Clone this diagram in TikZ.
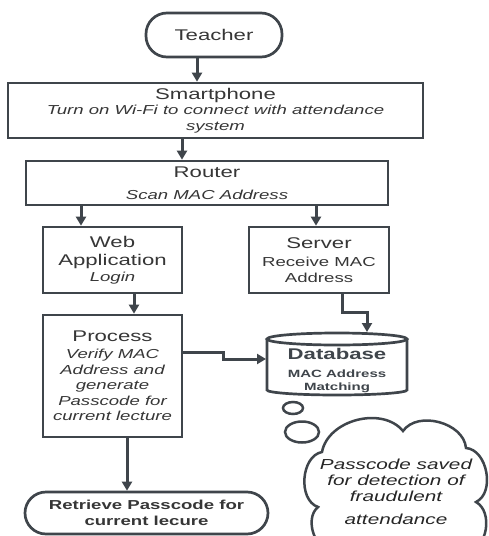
\documentclass[tikz,border=0pt]{standalone}
\usepackage{fontspec}
\setmainfont{Liberation Sans}[FakeStretch=1.43]
\usetikzlibrary{arrows.meta,calc}
\definecolor{ln}{HTML}{3F454B}
\definecolor{txt}{HTML}{363636}
\newcommand\hdfont{\fontsize{15.5}{18}\selectfont}
\newcommand\smfont{\fontsize{13}{15.5}\selectfont}
\begin{document}
\begin{tikzpicture}[x={(1pt,0)},y={(0,-1pt)},
  box/.style={draw=ln,line width=2.7pt,fill=white,inner sep=0pt,align=center,text=txt,font=\smfont},
  pill/.style={box,rounded corners=21pt},
  link/.style={draw=ln,line width=3pt,-{Triangle[width=10pt,length=9pt]}},
  outline/.style={draw=ln,line width=2.5pt,fill=white}]
\clip (0,0) rectangle (488,536);
\fill[white] (0,0) rectangle (488,536);

% start and end terminals
\node[pill,minimum width=136pt,minimum height=44pt,font=\hdfont] (teacher) at (214,35) {Teacher};
\node[pill,minimum width=243pt,minimum height=42pt,font=\fontsize{13}{16}\selectfont\bfseries] (retrieve) at (146.5,513)
  {Retrieve Passcode for\\current lecure};

% process boxes
\node[box,minimum width=415pt,minimum height=55pt] (smart) at (215.5,110.5)
  {\hdfont Smartphone\\\itshape Turn on Wi-Fi to connect with attendance\\\itshape system};
\node[box,minimum width=362pt,minimum height=44pt] (router) at (207,183)
  {\hdfont Router\\[6pt]\itshape Scan MAC Address};
\node[box,minimum width=139pt,minimum height=66pt] (web) at (112.5,260)
  {\hdfont Web\\[2.5pt]\hdfont Application\\\itshape Login};
\node[box,minimum width=140pt,minimum height=66pt] (server) at (319,260)
  {\hdfont Server\\[2.5pt]Receive MAC\\Address};
\node[box,minimum width=139pt,minimum height=122pt] (proc) at (112.5,376)
  {\hdfont Process\\[1.5pt]\itshape Verify MAC\\\itshape Address and\\\itshape generate\\\itshape Passcode for\\\itshape current lecture};

% database cylinder
\node[minimum width=140pt,minimum height=62pt,inner sep=0pt] (db) at (337,364) {};
\filldraw[outline,line width=2.7pt]
  (267,339) -- (267,390) arc[start angle=180,end angle=360,x radius=70pt,y radius=5pt]
  -- (407,339);
\filldraw[outline,line width=2.7pt] (337,339) ellipse[x radius=70pt,y radius=6pt];
\node[align=center,text=ln,inner sep=0pt,font=\fontsize{10.5}{12.5}\selectfont\bfseries] (dbtxt) at (337,370)
  {\fontsize{15.5}{18}\selectfont Database\\[6pt]MAC Address\\Matching};

% thought bubbles and note cloud
\draw[outline] (293,408) ellipse[x radius=10pt,y radius=6pt];
\draw[outline] (302,432) ellipse[x radius=17pt,y radius=10.5pt];
\draw[outline] (318,507) to[bend left=75] (322,452) to[bend left=65] (403,431)
  to[bend left=70] (466,448) to[bend left=75] (476,502) to[bend left=70] (468,552)
  -- (334,552) to[bend left=70] (318,507) -- cycle;
\node[align=center,text=black!85,inner sep=0pt,font=\fontsize{14.5}{16}\selectfont\itshape] (notetxt) at (396,492)
  {Passcode saved\\for detection of\\fraudulent\\[7pt]attendance};

% connectors
\draw[link] ([xshift=-17pt]teacher.south) -- ([xshift=-17pt]teacher.south |- smart.north);
\draw[link] ([xshift=-33.5pt]smart.south) -- ([xshift=-33.5pt]smart.south |- router.north);
\draw[link] (web.north |- router.south) ++(-31.5,0) -- ([xshift=-31.5pt]web.north);
\draw[link] (server.north |- router.south) ++(-3,0) -- ([xshift=-3pt]server.north);
\draw[link] ([xshift=21.5pt]web.south) -- ([xshift=21.5pt]web.south |- proc.north);
\draw[link] ([xshift=14.5pt]proc.south) -- ([xshift=14.5pt]proc.south |- retrieve.north);
\draw[link] ([xshift=23pt]server.south) |- (367,312) -- (367,332);
\draw[link] (proc.east |- 0,352) -| (223,359) -- (266,359);
\end{tikzpicture}
\end{document}
